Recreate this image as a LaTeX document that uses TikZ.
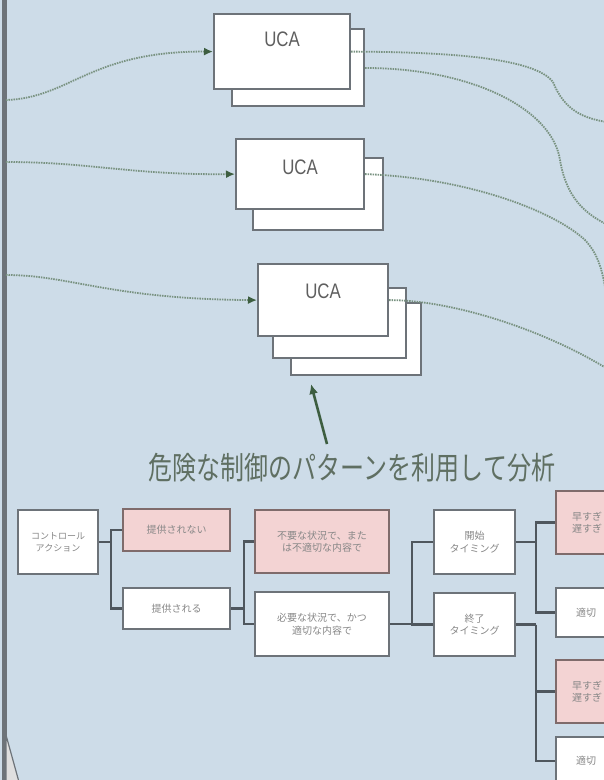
\documentclass[tikz,border=0pt]{standalone}
\usepackage{fontspec}
\setmainfont{Noto Sans CJK JP}
\newfontfamily\latinsans{Liberation Sans}
\usetikzlibrary{arrows.meta}
\definecolor{bgc}{RGB}{205,220,232}
\definecolor{boxgray}{RGB}{109,115,121}
\definecolor{conngray}{RGB}{79,87,94}
\definecolor{pinkfill}{RGB}{243,211,211}
\definecolor{pinkborder}{RGB}{127,107,107}
\definecolor{txtgray}{RGB}{135,135,135}
\definecolor{flowc}{RGB}{120,146,128}
\definecolor{arrowc}{RGB}{61,94,64}
\definecolor{ucatxt}{RGB}{95,95,95}
\definecolor{bigtxt}{RGB}{95,111,98}
\tikzset{
  box/.style={draw=boxgray, line width=2pt, fill=white, inner sep=0pt, anchor=north west,
    font=\fontsize{10}{12.5}\selectfont, text=txtgray, align=center},
  pinkbox/.style={box, fill=pinkfill, draw=pinkborder},
  ucabox/.style={draw=boxgray, line width=2.2pt, fill=white, inner sep=0pt, anchor=north west},
  ucatext/.style={font=\latinsans\fontsize{21}{21}\selectfont, text=ucatxt, inner sep=0pt},
  conn/.style={draw=conngray, line width=2.5pt},
  flow/.style={draw=flowc, line width=1.8pt, dash pattern=on 1.5pt off 1pt,
    -{Latex[length=9pt,width=8pt,color=arrowc]}},
  flowout/.style={draw=flowc, line width=1.8pt, dash pattern=on 1.5pt off 1pt},
}
\begin{document}
\begin{tikzpicture}[x=1pt,y=-1pt]
\useasboundingbox (0,0) rectangle (604,780);
\fill[bgc] (0,0) rectangle (604,780);
\begin{scope}
\clip (0,0) rectangle (604,780);

% left bar
\fill[boxgray] (1.5,0) rectangle (6.5,780);
\filldraw[fill=gray!25, draw=boxgray, line width=1.2pt] (6,735) -- (19,782) -- (6,782) -- cycle;

% UCA stack 1
\node[ucabox, minimum width=132pt, minimum height=77pt] (u1b) at (231,28) {};
\node[ucabox, minimum width=136pt, minimum height=75pt] (u1) at (213,13) {};
\node[ucatext] (t1) at ([yshift=-26pt]u1.north) {\scalebox{0.8}[1]{UCA}};

% UCA stack 2
\node[ucabox, minimum width=130pt, minimum height=72pt] (u2b) at (252,157) {};
\node[ucabox, minimum width=128pt, minimum height=70pt] (u2) at (235,138) {};
\node[ucatext] (t2) at ([yshift=-29pt]u2.north) {\scalebox{0.8}[1]{UCA}};

% UCA stack 3
\node[ucabox, minimum width=130pt, minimum height=72pt] (u3c) at (290,302) {};
\node[ucabox, minimum width=133pt, minimum height=70pt] (u3b) at (272,287) {};
\node[ucabox, minimum width=130pt, minimum height=72pt] (u3) at (257,263) {};
\node[ucatext] (t3) at ([yshift=-28pt]u3.north) {\scalebox{0.8}[1]{UCA}};

% incoming flows
\coordinate (in1) at (6,100);
\coordinate (in2) at (6,162);
\coordinate (in3) at (6,275);
\draw[flow] (in1) .. controls (70,98) and (90,51) .. (u1.west);
\draw[flow] (in2) .. controls (90,162) and (130,175) .. (u2.west);
\draw[flow] (in3) .. controls (70,275) and (110,299) .. (u3.west);

% outgoing flows
\coordinate (m1) at (553,82);
\coordinate (o1) at (606,122);
\coordinate (m2) at (560,160);
\coordinate (o2) at (606,224);
\coordinate (m3) at (585,240);
\coordinate (o3) at (607,300);
\coordinate (o4) at (606,368);
\draw[flowout] (u1.east) .. controls (450,52) and (535,58) .. (m1) .. controls (565,112) and (585,118) .. (o1);
\draw[flowout] (u1b.east |- 0,68) .. controls (470,68) and (552,108) .. (m2) .. controls (566,195) and (582,212) .. (o2);
\draw[flowout] (u2.east) .. controls (470,178) and (555,212) .. (m3) .. controls (598,254) and (603,270) .. (o3);
\draw[flowout] (u3.east) .. controls (450,300) and (540,328) .. (o4);

% analysis text and arrow
\node[font=\fontsize{24}{24}\selectfont, text=bigtxt, inner sep=0pt] (ana) at (352,468)
  {\scalebox{1}[1.3]{危険な制御のパターンを利用して分析}};
\coordinate (atail) at (327,444);
\coordinate (ahead) at (311,384);
\draw[draw=arrowc, line width=2.6pt, -{Latex[length=10pt,width=9pt]}] (atail) -- (ahead);

% tree boxes
\node[box, minimum width=80pt, minimum height=64pt, font=\fontsize{9}{12}\selectfont] (ca) at (17,509) {コントロール\\アクション};
\node[pinkbox, minimum width=107pt, minimum height=42pt] (np) at (122,508) {提供されない};
\node[box, minimum width=107pt, minimum height=41pt] (pv) at (122,587) {提供される};
\node[pinkbox, minimum width=134pt, minimum height=63pt] (bad) at (254,509) {不要な状況で、また\\は不適切な内容で};
\node[box, minimum width=134pt, minimum height=64pt] (good) at (254,591) {必要な状況で、かつ\\適切な内容で};
\node[box, minimum width=81pt, minimum height=64pt] (st) at (433,509) {開始\\タイミング};
\node[box, minimum width=81pt, minimum height=63pt] (en) at (433,592) {終了\\タイミング};
\node[pinkbox, minimum width=62pt, minimum height=63pt] (e1) at (555,490) {早すぎ\\遅すぎ};
\node[box, minimum width=60pt, minimum height=49pt] (k1) at (555,587) {適切};
\node[pinkbox, minimum width=62pt, minimum height=63pt] (e2) at (555,659) {早すぎ\\遅すぎ};
\node[box, minimum width=60pt, minimum height=48pt] (k2) at (555,736) {適切};

% tree connectors
\draw[conn] (ca.east) -- ++(12,0) coordinate (j1);
\draw[conn] (j1) |- (np.west);
\draw[conn] (j1) |- (pv.west);
\draw[conn] (pv.east) -- ++(13,0) coordinate (j2);
\draw[conn] (j2) |- (bad.west);
\draw[conn] (j2) |- (good.west);
\draw[conn] (good.east) -- ++(22,0) coordinate (j3);
\draw[conn] (j3) |- (st.west);
\draw[conn] (j3) |- (en.west);
\draw[conn] (st.east) -- ++(20,0) coordinate (j4);
\draw[conn] (j4) |- (e1.west);
\draw[conn] (j4) |- (k1.west);
\draw[conn] (en.east) -- ++(20,0) coordinate (j5);
\draw[conn] (j5) |- (e2.west);
\draw[conn] (j5) |- (k2.west);
\end{scope}
\end{tikzpicture}
\end{document}
